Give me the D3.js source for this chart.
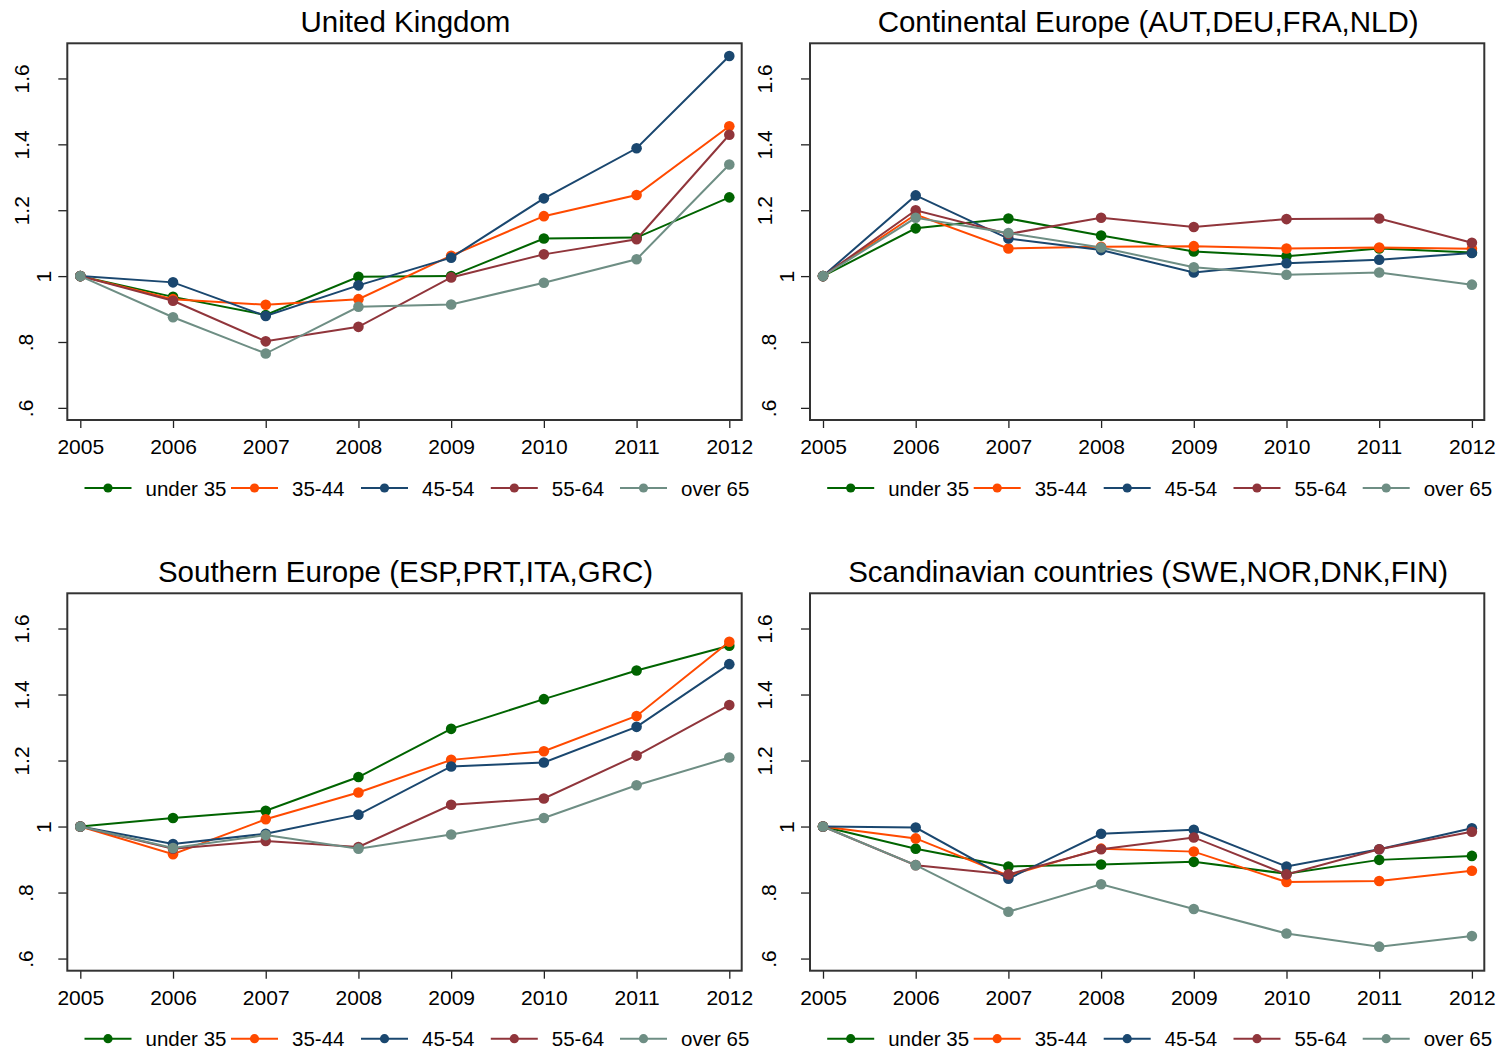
<!DOCTYPE html>
<html>
<head>
<meta charset="utf-8">
<script src="https://cdn.jsdelivr.net/npm/d3@7"></script>
<style>
  html, body { margin: 0; padding: 0; background: #fff; }
  svg { display: block; }
  text { font-family: "Liberation Sans", Arial, Helvetica, sans-serif; fill: #000; }
</style>
</head>
<body>
<svg id="chart" width="1499" height="1050"></svg>
<script>
// ---------------- data ----------------
const years = [2005, 2006, 2007, 2008, 2009, 2010, 2011, 2012];
const groups = ["under 35", "35-44", "45-54", "55-64", "over 65"];
const yTickValues = [0.6, 0.8, 1, 1.2, 1.4, 1.6];
const yTickLabels = [".6", ".8", "1", "1.2", "1.4", "1.6"];
const panelTitles = [
  "United Kingdom",
  "Continental Europe (AUT,DEU,FRA,NLD)",
  "Southern Europe (ESP,PRT,ITA,GRC)",
  "Scandinavian countries (SWE,NOR,DNK,FIN)"
];

const ukUnder35 = [1, 0.937, 0.882, 0.998, 1.000, 1.114, 1.117, 1.239];
const uk35_44   = [1, 0.930, 0.913, 0.930, 1.062, 1.182, 1.246, 1.455];
const uk45_54   = [1, 0.981, 0.879, 0.972, 1.056, 1.236, 1.388, 1.668];
const uk55_64   = [1, 0.925, 0.802, 0.846, 0.996, 1.066, 1.112, 1.429];
const ukOver65  = [1, 0.875, 0.765, 0.907, 0.914, 0.980, 1.051, 1.339];

const ceUnder35 = [1, 1.145, 1.175, 1.123, 1.075, 1.060, 1.084, 1.072];
const ce35_44   = [1, 1.187, 1.084, 1.089, 1.091, 1.084, 1.087, 1.083];
const ce45_54   = [1, 1.245, 1.114, 1.079, 1.011, 1.039, 1.050, 1.070];
const ce55_64   = [1, 1.200, 1.128, 1.177, 1.149, 1.173, 1.175, 1.101];
const ceOver65  = [1, 1.177, 1.131, 1.087, 1.027, 1.004, 1.011, 0.974];

const seUnder35 = [1, 1.026, 1.048, 1.150, 1.296, 1.386, 1.473, 1.548];
const se35_44   = [1, 0.916, 1.022, 1.103, 1.202, 1.228, 1.335, 1.560];
const se45_54   = [1, 0.947, 0.978, 1.036, 1.182, 1.194, 1.302, 1.492];
const se55_64   = [1, 0.933, 0.956, 0.938, 1.066, 1.085, 1.215, 1.368];
const seOver65  = [1, 0.935, 0.974, 0.933, 0.976, 1.026, 1.125, 1.209];

const scUnder35 = [1, 0.933, 0.879, 0.885, 0.893, 0.857, 0.899, 0.911];
const sc35_44   = [1, 0.964, 0.851, 0.933, 0.924, 0.832, 0.835, 0.866];
const sc45_54   = [1, 0.997, 0.842, 0.978, 0.990, 0.879, 0.931, 0.995];
const sc55_64   = [1, 0.883, 0.855, 0.931, 0.967, 0.855, 0.931, 0.984];
const scOver65  = [1, 0.883, 0.742, 0.825, 0.750, 0.676, 0.636, 0.668];

const panelSeries = [
  [ukUnder35, uk35_44, uk45_54, uk55_64, ukOver65],
  [ceUnder35, ce35_44, ce45_54, ce55_64, ceOver65],
  [seUnder35, se35_44, se45_54, se55_64, seOver65],
  [scUnder35, sc35_44, sc45_54, sc55_64, scOver65]
];

// ---------------- style / layout ----------------
const colors = ["#006400", "#FF4A00", "#1A476F", "#90353B", "#6E8E84"];
const panels = [
  { left: 67.3,  right: 741.7,  top: 43.3,  bottom: 420 },
  { left: 810,   right: 1484.3, top: 43.3,  bottom: 420 },
  { left: 67.3,  right: 741.7,  top: 593.3, bottom: 970.7 },
  { left: 810,   right: 1484.3, top: 593.3, bottom: 970.7 }
];
const yDomain = [0.5632, 1.7067];
const legendItemOffsets = [0, 146.5, 276.5, 406.3, 535.5];

const svg = d3.select("#chart");

panels.forEach((p, pi) => {
  const g = svg.append("g");
  const x = d3.scaleLinear().domain([years[0], years[years.length - 1]])
    .range([p.left + 13, p.right - 12.4]);
  const y = d3.scaleLinear().domain(yDomain).range([p.bottom, p.top]);

  // title
  g.append("text")
    .attr("x", (p.left + p.right) / 2 + 1)
    .attr("y", p.top - 11)
    .attr("text-anchor", "middle")
    .style("font-size", "29.5px")
    .text(panelTitles[pi]);

  // x axis
  const xAxis = g.append("g")
    .attr("transform", `translate(0,${p.bottom})`)
    .call(d3.axisBottom(x).tickValues(years).tickFormat(d3.format("d")).tickSize(8).tickPadding(11));
  xAxis.select(".domain").remove();
  xAxis.selectAll(".tick line").attr("stroke", "#222").attr("stroke-width", 1.3);
  xAxis.selectAll(".tick text")
    .style("font-size", "21px")
    .style("font-family", "'Liberation Sans', Arial, sans-serif")
    .attr("fill", "#000");

  // y axis
  const yAxis = g.append("g")
    .attr("transform", `translate(${p.left},0)`)
    .call(d3.axisLeft(y).tickValues(yTickValues)
      .tickFormat((d, i) => yTickLabels[i]).tickSize(9));
  yAxis.select(".domain").remove();
  yAxis.selectAll(".tick line").attr("stroke", "#222").attr("stroke-width", 1.3);
  yAxis.selectAll(".tick text")
    .style("font-size", "21px")
    .style("font-family", "'Liberation Sans', Arial, sans-serif")
    .attr("fill", "#000")
    .attr("text-anchor", "middle")
    .attr("dy", null)
    .attr("x", null)
    .attr("transform", (d, i) => {
      const lbl = yTickLabels[i];
      const bx = lbl.length === 1 ? -16 : (lbl.startsWith(".") ? -34 : -38);
      return `translate(${bx},0) rotate(-90)`;
    });

  // frame
  g.append("rect")
    .attr("x", p.left).attr("y", p.top)
    .attr("width", p.right - p.left).attr("height", p.bottom - p.top)
    .attr("fill", "none").attr("stroke", "#333").attr("stroke-width", 2);

  // series
  const line = d3.line().x((d, i) => x(years[i])).y(d => y(d));
  panelSeries[pi].forEach((vals, si) => {
    const sg = g.append("g");
    sg.append("path")
      .attr("d", line(vals))
      .attr("fill", "none")
      .attr("stroke", colors[si])
      .attr("stroke-width", 2);
    sg.selectAll("circle").data(vals).enter().append("circle")
      .attr("cx", (d, i) => x(years[i]))
      .attr("cy", d => y(d))
      .attr("r", 5.3)
      .attr("fill", colors[si]);
  });

  // legend
  const ly = p.bottom + 68;
  const lg = g.append("g");
  groups.forEach((name, si) => {
    const sx = p.left + 17.2 + legendItemOffsets[si];
    lg.append("line")
      .attr("x1", sx).attr("x2", sx + 47)
      .attr("y1", ly).attr("y2", ly)
      .attr("stroke", colors[si]).attr("stroke-width", 2);
    lg.append("circle")
      .attr("cx", sx + 23.5).attr("cy", ly).attr("r", 4.6)
      .attr("fill", colors[si]);
    lg.append("text")
      .attr("x", sx + 61).attr("y", ly + 7.5)
      .style("font-size", "20.5px")
      .text(name);
  });
});
</script>
</body>
</html>
